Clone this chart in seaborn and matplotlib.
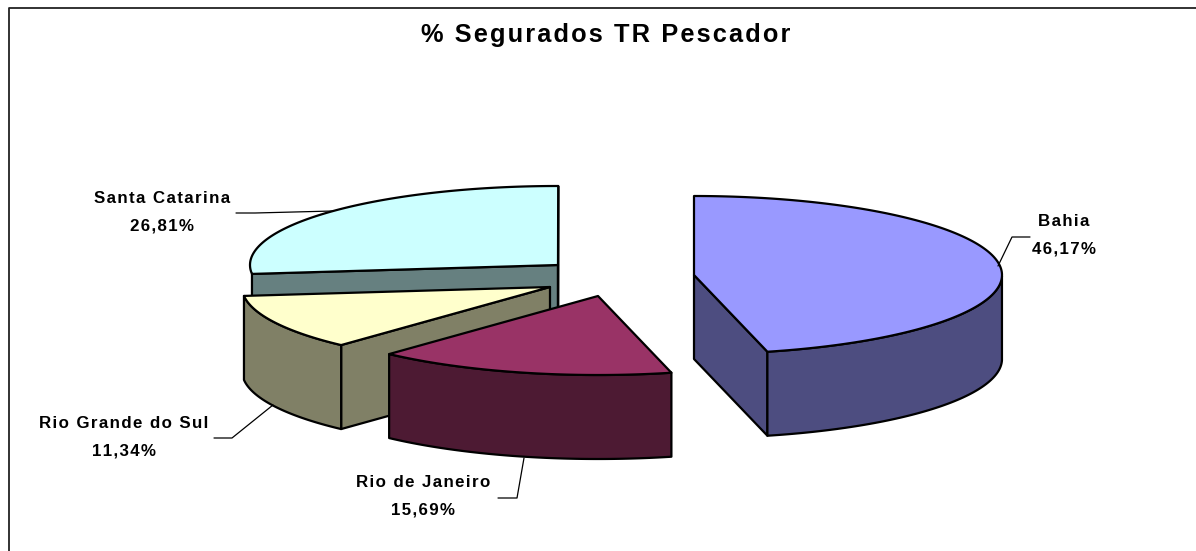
import numpy as np
import matplotlib
matplotlib.use("Agg")
import matplotlib.pyplot as plt
import seaborn as sns

# ---- chart content ----
title = "% Segurados TR Pescador"
states = ["Bahia", "Rio de Janeiro", "Rio Grande do Sul", "Santa Catarina"]
shares = [46.17, 15.69, 11.34, 26.81]
top_colors = ["#9999FF", "#993366", "#FFFFCC", "#CCFFFF"]
side_colors = ["#4D4D80", "#4D1A33", "#808066", "#668080"]

# ---- layout (pixels of the 1196x551 canvas) ----
W, H = 1196, 551
RX, RY, DEPTH = 308, 79, 84
centres = [(694, 275), (598, 296), (550, 287), (558, 265)]
label_xy = [(1064, 235), (423, 496), (124, 437), (162, 212)]
leaders = [[(998, 266), (1012, 237), (1030, 237)],
           [(524, 458), (517, 498), (498, 498)],
           [(273, 405), (232, 438), (214, 438)],
           [(333, 211), (255, 213), (236, 213)]]

sns.set_theme(style="white")
plt.rcParams["font.family"] = ["Liberation Sans", "DejaVu Sans"]

fig = plt.figure(figsize=(W / 100, H / 100), dpi=100, facecolor="white")
ax = fig.add_axes([0, 0, 1, 1])
ax.set_xlim(0, W)
ax.set_ylim(H, 0)
ax.axis("off")


def spaced(s, gap="\u200a"):
    """Excel-like wide tracking."""
    return gap.join(s)


def rim(t, cx, cy):
    return cx + RX * np.sin(t), cy - RY * np.cos(t)


def face(xs, ys, colour, z):
    ax.fill(xs, ys, facecolor=colour, edgecolor="black", linewidth=1.6,
            joinstyle="round", zorder=z)


# slices run clockwise from twelve o'clock; back slices are painted first
edges = np.radians(np.concatenate([[0], np.cumsum(shares)]) * 3.6)

for i in [3, 2, 1, 0]:
    cx, cy = centres[i]
    a, b = edges[i], edges[i + 1]
    t = np.linspace(a, b, 160)
    x, y = rim(t, cx, cy)
    z = 10 + (3 - i) * 3
    # cut faces, only those turned towards the viewer
    if np.sin(a) < -1e-9:
        face([cx, x[0], x[0], cx], [cy, y[0], y[0] + DEPTH, cy + DEPTH], side_colors[i], z)
    if np.sin(b) > 1e-9:
        face([cx, x[-1], x[-1], cx], [cy, y[-1], y[-1] + DEPTH, cy + DEPTH], side_colors[i], z)
    # outer curved wall: only where the rim faces the viewer
    vis = np.cos(t) <= 0.0
    if i != 3 and vis.any():
        face(np.r_[x[vis], x[vis][::-1]],
             np.r_[y[vis], y[vis][::-1] + DEPTH], side_colors[i], z + 1)
    # top
    face(np.r_[cx, x], np.r_[cy, y], top_colors[i], z + 2)

# leader lines and labels
for name, share, (lx, ly), pts in zip(states, shares, label_xy, leaders):
    px, py = zip(*pts)
    ax.plot(px, py, color="black", lw=0.9, zorder=30)
    pct = f"{share:.2f}%".replace(".", ",")
    ax.text(lx, ly - 13.5, spaced(name), ha="center", va="center", fontsize=12.2,
            fontweight="bold", color="black", zorder=31)
    ax.text(lx, ly + 14, spaced(pct), ha="center", va="center", fontsize=12.2,
            fontweight="bold", color="black", zorder=31)

ax.text(606, 35, spaced(title), ha="center", va="center", fontsize=18.3,
        fontweight="bold", color="black")

# chart frame: only left and top edges are inside the picture
ax.plot([8.5, 8.5, W], [H, 8, 8], color="#222222", lw=1.3, zorder=1)

fig.savefig("out.png", dpi=100)
